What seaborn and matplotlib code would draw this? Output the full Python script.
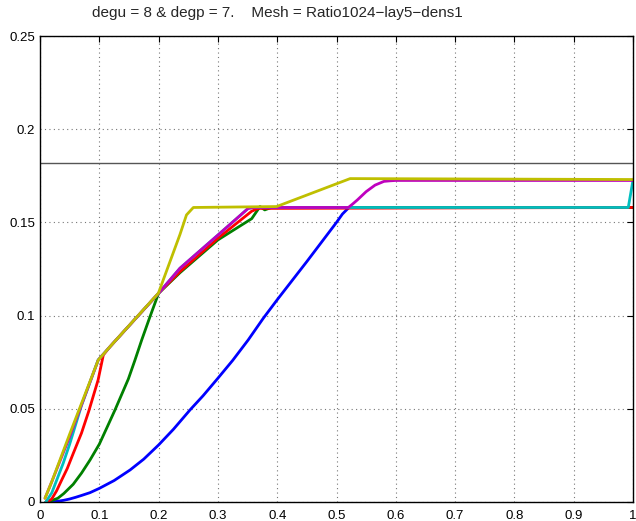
import numpy as np
import pandas as pd
import matplotlib
matplotlib.use("Agg")
import matplotlib.pyplot as plt
import seaborn as sns

# curves
x_blue = [0.01, 0.02, 0.03, 0.04, 0.05, 0.06, 0.07, 0.0843, 0.1, 0.125, 0.152, 0.175, 0.2, 0.225,
          0.253, 0.275, 0.3, 0.325, 0.351, 0.3766, 0.4, 0.45, 0.5, 0.51, 0.521, 1.0]
y_blue = [0.0, 0.0001, 0.0004, 0.0009, 0.0016, 0.0025, 0.0035, 0.005, 0.0073, 0.0115, 0.0172, 0.023,
          0.0306, 0.039, 0.0494, 0.057, 0.0664, 0.076, 0.0869, 0.0986, 0.1085, 0.129, 0.150, 0.1545,
          0.158, 0.158]

x_green = [0.01, 0.02, 0.03, 0.04, 0.056, 0.07, 0.0843, 0.1, 0.113, 0.1265, 0.149, 0.16, 0.1715,
           0.185, 0.2, 0.236, 0.3, 0.357, 0.371, 0.379, 0.39, 1.0]
y_green = [0.0, 0.0008, 0.002, 0.0045, 0.0095, 0.0155, 0.0225, 0.031, 0.040, 0.0494, 0.066, 0.076,
           0.0869, 0.099, 0.112, 0.123, 0.1406, 0.152, 0.1585, 0.1567, 0.158, 0.158]

x_red = [0.01, 0.015, 0.0197, 0.028, 0.0366, 0.046, 0.056, 0.07, 0.0825, 0.09, 0.098, 0.1068, 0.118,
         0.2, 0.236, 0.3, 0.357, 0.368, 1.0]
y_red = [0.0, 0.0006, 0.0016, 0.006, 0.0118, 0.018, 0.026, 0.037, 0.049, 0.057, 0.0655, 0.0789, 0.0833,
         0.112, 0.1236, 0.1415, 0.156, 0.1575, 0.158]

x_cyan = [0.01, 0.02, 0.039, 0.05, 0.07, 0.098, 0.118, 0.2, 0.236, 0.3, 0.351, 0.36, 0.992, 1.0]
y_cyan = [0.0, 0.005, 0.0207, 0.031, 0.0518, 0.0762, 0.0833, 0.112, 0.1254, 0.1432, 0.1575, 0.158, 0.158, 0.1727]

x_magenta = [0.0084, 0.02, 0.05, 0.0983, 0.118, 0.2, 0.236, 0.3, 0.351, 0.36, 0.52, 0.527, 0.535,
             0.55, 0.565, 0.58, 0.59, 0.60, 1.0]
y_magenta = [0.002, 0.011, 0.035, 0.0762, 0.0833, 0.112, 0.1254, 0.1432, 0.1575, 0.158, 0.158, 0.1598,
             0.162, 0.1665, 0.170, 0.172, 0.1723, 0.1725, 0.1725]

x_yellow = [0.0084, 0.02, 0.05, 0.0983, 0.118, 0.1996, 0.236, 0.247, 0.2586, 0.399, 0.523, 1.0]
y_yellow = [0.002, 0.011, 0.0364, 0.0762, 0.0833, 0.112, 0.1435, 0.154, 0.158, 0.1585, 0.1735, 0.173]

ref_level = 0.1817

series = [
    ("blue", x_blue, y_blue, (0, 0, 1)),
    ("green", x_green, y_green, (0, 0.5, 0)),
    ("red", x_red, y_red, (1, 0, 0)),
    ("cyan", x_cyan, y_cyan, (0, 0.75, 0.75)),
    ("magenta", x_magenta, y_magenta, (0.75, 0, 0.75)),
    ("yellow", x_yellow, y_yellow, (0.75, 0.75, 0)),
]

sns.set_style("white")
plt.rcParams["font.family"] = ["Liberation Sans", "DejaVu Sans"]

fig = plt.figure(figsize=(6.36, 5.21), dpi=100)
ax = fig.add_axes([0.0629, 0.0365, 0.9324, 0.8944])

ax.axhline(ref_level, color="#555555", lw=1.0, zorder=1)

for name, xs, ys, col in series:
    sns.lineplot(x=xs, y=ys, color=col, lw=2.0, ax=ax, sort=False, zorder=2)

ax.set_xlim(0, 1)
ax.set_ylim(0, 0.25)
ax.set_xticks(np.arange(0, 1.01, 0.1))
ax.set_xticklabels(["0", "0.1", "0.2", "0.3", "0.4", "0.5", "0.6", "0.7", "0.8", "0.9", "1"])
ax.set_yticks([0, 0.05, 0.1, 0.15, 0.2, 0.25])
ax.set_yticklabels(["0", "0.05", "0.1", "0.15", "0.2", "0.25"])

ax.grid(True, linestyle=(0, (1, 3)), color="#777777", lw=0.8)
ax.tick_params(direction="in", top=True, right=True, length=4, width=0.8,
               labelsize=9.5, colors="black")
ax.tick_params(axis="x", pad=6)
for sp in ax.spines.values():
    sp.set_color("black")
    sp.set_linewidth(1.0)

fig.text(277 / 636, 1 - 13 / 521, "degu = 8 & degp = 7.    Mesh = Ratio1024\u2212lay5\u2212dens1",
         fontsize=11, ha="center", va="center")

fig.savefig("out.png", dpi=100)
